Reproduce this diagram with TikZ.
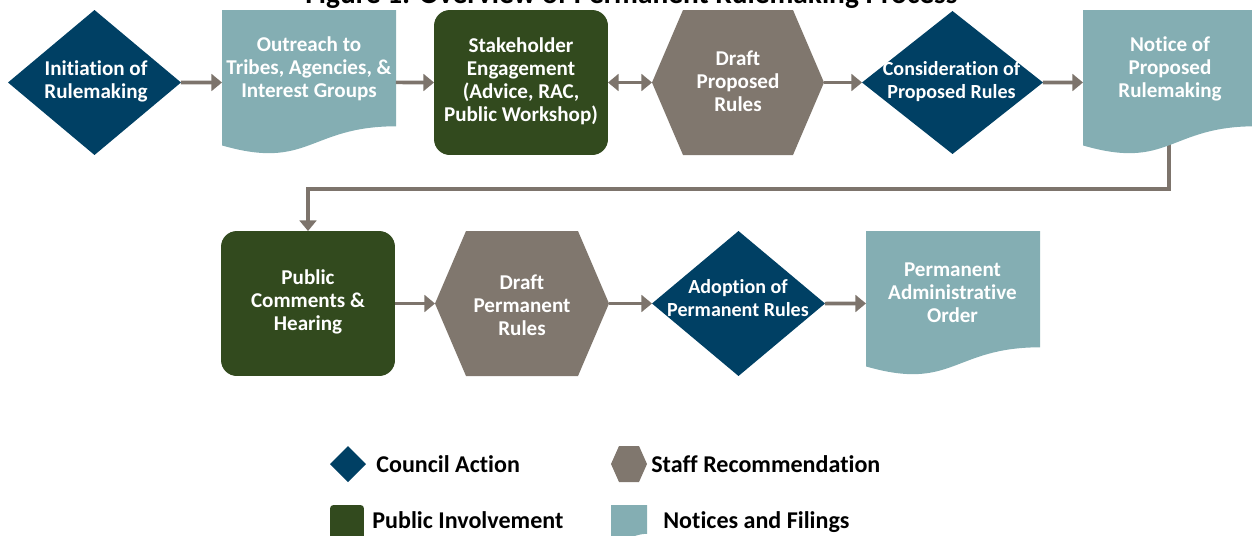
\documentclass[tikz,border=0pt]{standalone}
\usepackage{fontspec}
\setmainfont[Ligatures=NoCommon]{Carlito}
\usetikzlibrary{arrows.meta,shapes.geometric}
\definecolor{council}{RGB}{0,64,100}
\definecolor{public}{RGB}{50,74,30}
\definecolor{staff}{RGB}{128,119,110}
\definecolor{notice}{RGB}{132,174,179}
\definecolor{conncol}{RGB}{125,116,108}
\pgfdeclarelayer{background}
\pgfsetlayers{background,main}
\newcommand\pxu{0.56905pt}
\tikzset{
  hold/.style={shape=rectangle, inner sep=0, outer sep=0, draw=none},
  councilshape/.style={shape=diamond, fill=council, inner sep=0, outer sep=0},
  publicshape/.style={shape=rectangle, fill=public, rounded corners=9pt, inner sep=0, outer sep=0},
  boxtext/.style={text=white, font=\fontsize{12}{13.1}\selectfont\bfseries, align=center, inner sep=0},
  dtext/.style={boxtext, font=\fontsize{11.4}{13.1}\selectfont\bfseries},
  legtext/.style={text=black, font=\fontsize{13.7}{15}\selectfont\bfseries, anchor=base west, inner sep=0},
  titletext/.style={text=black, font=\fontsize{16.7}{18}\selectfont\bfseries, anchor=base, inner sep=0},
  conn/.style={draw=conncol, line width=2pt, -{Triangle[length=6pt,width=9.5pt]}},
  dconn/.style={draw=conncol, line width=2pt, {Triangle[length=6pt,width=9.5pt]}-{Triangle[length=6pt,width=9.5pt]}}
}
% name, cx, cy, w, h, inset
\newcommand\hexshape[6]{%
  \node[hold, minimum width=#4*\pxu, minimum height=#5*\pxu] (#1) at (#2,#3) {};
  \fill[staff] ({#2-#4/2},#3) -- ({#2-#4/2+#6},{#3-#5/2}) -- ({#2+#4/2-#6},{#3-#5/2})
    -- ({#2+#4/2},#3) -- ({#2+#4/2-#6},{#3+#5/2}) -- ({#2-#4/2+#6},{#3+#5/2}) -- cycle;}
% name, left, top, w, h, colour
\newcommand\docshape[6]{%
  \node[hold, minimum width=#4*\pxu, minimum height=#5*\pxu, anchor=north west] (#1) at (#2,#3) {};
  \fill[#6] (#2,#3) -- ({#2+#4},#3) -- ({#2+#4},{#3+0.802*#5})
    .. controls ({#2+0.5*#4},{#3+0.802*#5}) and ({#2+0.5*#4},{#3+1.1075*#5}) .. (#2,{#3+0.934*#5}) -- cycle;}
\begin{document}
\begin{tikzpicture}[x=0.02cm,y=-0.02cm]
\useasboundingbox (0,0) rectangle (1252,535);
% title (cut off at top, as in the reference)
\node[titletext] (title) at (631.5,3) {Figure 1: Overview of Permanent Rulemaking Process};
% row 1
\node[councilshape, minimum width=173*\pxu, minimum height=145*\pxu] (d1) at (94.5,82.5) {};
\docshape{doc1}{222}{10}{174}{145}{notice}
\node[publicshape, minimum width=174*\pxu, minimum height=145*\pxu] (g1) at (521,82.5) {};
\hexshape{h1}{738}{82.5}{172}{145}{31}
\node[councilshape, minimum width=181*\pxu, minimum height=143*\pxu] (d2) at (952.5,82.5) {};
\docshape{doc2}{1083}{10}{172}{145}{notice}
% row 2
\node[publicshape, minimum width=174*\pxu, minimum height=145*\pxu] (g2) at (308,303.5) {};
\hexshape{h2}{522}{303.5}{174}{145}{31}
\node[councilshape, minimum width=173*\pxu, minimum height=145*\pxu] (d3) at (738.5,303.5) {};
\docshape{doc3}{866}{231}{174}{145}{notice}
% connectors
\coordinate (turn) at (308,189);
\draw[conn] (d1.east) -- (doc1.west);
\draw[conn] (doc1.east) -- (g1.west);
\draw[dconn] (g1.east) -- (h1.west);
\draw[conn] (h1.east) -- (d2.west);
\draw[conn] (d2.east) -- (doc2.west);
\begin{pgfonlayer}{background}
\draw[conn] (doc2.center) -- (doc2.center |- turn) -| (g2.north);
\end{pgfonlayer}
\draw[conn] (g2.east) -- (h2.west);
\draw[conn] (h2.east) -- (d3.west);
\draw[conn] (d3.east) -- (doc3.west);
% labels
\node[boxtext] (d1t) at (96,81.5) {Initiation of\\Rulemaking};
\node[boxtext] (doc1t) at (309,68.5) {Outreach to\\Tribes, Agencies, \&\\Interest Groups};
\node[boxtext] (g1t) at (521,81.5) {Stakeholder\\Engagement\\(Advice, RAC,\\Public Workshop)};
\node[boxtext] (h1t) at (738,81) {Draft\\Proposed\\Rules};
\node[dtext] (d2t) at (951.5,81.5) {Consideration of\\Proposed Rules};
\node[boxtext] (doc2t) at (1170,68.5) {Notice of\\Proposed\\Rulemaking};
\node[boxtext] (g2t) at (308,302) {Public\\Comments \&\\Hearing};
\node[boxtext] (h2t) at (522,305) {Draft\\Permanent\\Rules};
\node[dtext] (d3t) at (738,298.5) {Adoption of\\Permanent Rules};
\node[boxtext] (doc3t) at (952.5,292.5) {Permanent\\Administrative\\Order};
% legend
\node[councilshape, minimum width=36*\pxu, minimum height=36*\pxu] (lc) at (348,464) {};
\hexshape{ls}{629}{464}{36}{36}{8}
\node[publicshape, rounded corners=2pt, minimum width=34*\pxu, minimum height=34*\pxu] (lp) at (347,522) {};
\docshape{ln}{611}{505}{36}{36}{notice}
\node[legtext] (lct) at (376,472) {Council Action};
\node[legtext] (lst) at (651,472) {Staff Recommendation};
\node[legtext] (lpt) at (372,528) {Public Involvement};
\node[legtext] (lnt) at (663,528) {Notices and Filings};
\end{tikzpicture}
\end{document}
